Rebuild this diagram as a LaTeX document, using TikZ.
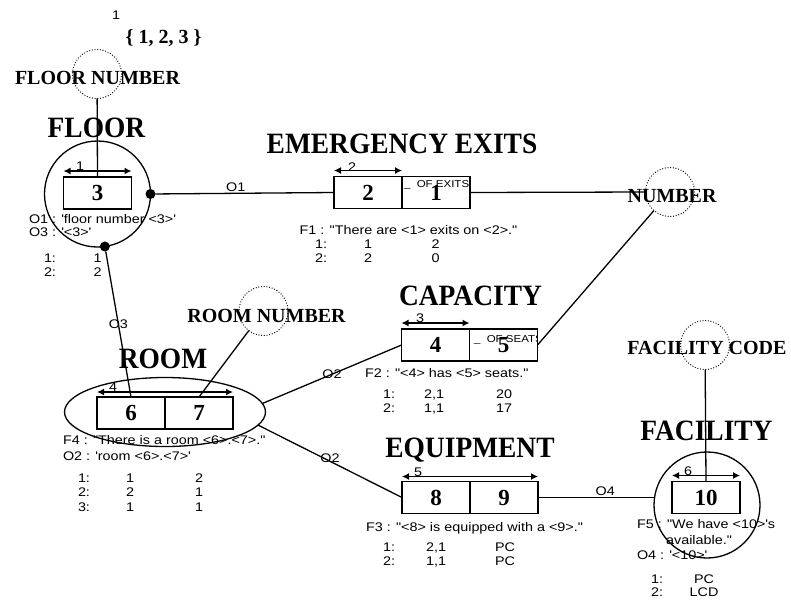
\documentclass[tikz,border=0pt]{standalone}
\usepackage{fontspec}
\setmainfont{Liberation Serif}
\setsansfont{Liberation Sans}
\newfontfamily\lblfont{Liberation Sans}[FakeStretch=1.15]
\newfontfamily\ttlfont{Liberation Serif}[FakeStretch=0.93]
\usetikzlibrary{arrows.meta,shapes.geometric}
\newcommand\sqt{\textquotesingle}
\begin{document}
\begin{tikzpicture}[x=1pt,y=-1pt,
  every node/.style={inner sep=0pt,outer sep=0pt},
  lbl/.style={font=\lblfont\fontsize{12.5}{14}\selectfont, text height=9pt, text depth=0pt},
  ttl/.style={font=\ttlfont\bfseries\fontsize{29.5}{32}\selectfont, anchor=base},
  attr/.style={font=\bfseries\fontsize{20}{22}\selectfont, anchor=base},
  cell/.style={draw, line width=1.3pt, minimum width=68pt, minimum height=32pt, font=\bfseries\fontsize{23}{25}\selectfont},
  dotc/.style={circle, draw, line width=1.3pt, dash pattern=on 0pt off 2.7pt, line cap=round, minimum size=49pt},
  bigc/.style={circle, draw, line width=1.3pt, minimum size=106pt},
  blob/.style={circle, fill, minimum size=10pt},
  dimarr/.style={line width=1.3pt, arrows={Latex[length=7pt,width=7pt]-Latex[length=7pt,width=7pt]}},
  conn/.style={line width=1.3pt},
  tinyl/.style={font=\lblfont\fontsize{10}{11}\selectfont, anchor=base west}
]
\useasboundingbox (0,0) rectangle (791,600);

% ---------- top domain ----------
\node[lbl] (topone) at (116,15) {1};
\node[font=\bfseries\fontsize{20}{22}\selectfont, anchor=base] (domain) at (163.5,43) {\{ 1, 2, 3 \}};

% ---------- FLOOR ----------
\node[dotc] (fnc) at (97,74) {};
\node[attr] (fnt) at (97.5,84) {FLOOR NUMBER};
\node[ttl] (floort) at (96.5,137) {FLOOR};
\node[bigc] (floorc) at (97.5,194) {};
\node[cell] (b3) at (97.5,193) {3};
\draw[dimarr] ([yshift=6pt]b3.north west) -- ([yshift=6pt]b3.north east);
\node[lbl] (n1) at (80,166) {1};
\draw[conn] (fnc) -- (b3.north);
\node[blob] (d1) at (floorc.east) {};
\node[blob] (d3) at (floorc.-82) {};
\node[lbl, anchor=west] (o1floor) at (29,219) {O1 : \sqt floor number <3>\sqt};
\node[lbl, anchor=west] (o3floor) at (29,232) {O3 : \sqt<3>\sqt};
\node[lbl] (fr1a) at (50,258) {1:};
\node[lbl] (fr1b) at (97.5,258) {1};
\node[lbl] (fr2a) at (50,272) {2:};
\node[lbl] (fr2b) at (97.5,272) {2};

% ---------- EMERGENCY EXITS ----------
\node[ttl] (emt) at (402,153) {EMERGENCY EXITS};
\node[cell] (b2) at (368,192.5) {2};
\node[cell, anchor=west] (b1) at (b2.east) {1};
\draw[dimarr] ([yshift=6pt]b2.north west) -- ([yshift=6pt]b2.north east);
\node[lbl] (n2) at (352,167) {2};
\begin{scope}
  \clip (b1.south west) rectangle (b1.north east);
  \node[tinyl] (ofexits) at (404,187) {\_\ \ OF EXITS};
\end{scope}
\draw[conn] (d1) -- (b2.west) node[lbl, pos=0.45, anchor=south, yshift=2pt] (o1lab) {O1};
\node[lbl] (f1) at (408.5,230) {F1 : "There are <1> exits on <2>."};
\node[lbl] (er1a) at (321,244) {1:};
\node[lbl] (er1b) at (368,244) {1};
\node[lbl] (er1c) at (435.5,244) {2};
\node[lbl] (er2a) at (321,258) {2:};
\node[lbl] (er2b) at (368,258) {2};
\node[lbl] (er2c) at (435.5,258) {0};

% ---------- NUMBER ----------
\node[dotc] (numc) at (670,192) {};
\node[attr] (numt) at (672,202) {NUMBER};
\draw[conn] (b1.east) -- (numc.west);

% ---------- CAPACITY ----------
\node[ttl] (capt) at (470.5,305) {CAPACITY};
\node[cell] (b4) at (435.5,345) {4};
\node[cell, anchor=west] (b5) at (b4.east) {5};
\draw[dimarr] ([yshift=6pt]b4.north west) -- ([yshift=6pt]b4.north east);
\node[lbl] (n3) at (420,318) {3};
\begin{scope}
  \clip (b5.south west) rectangle (b5.north east);
  \node[tinyl] (ofseats) at (474,342) {\_\ \ OF SEATS};
\end{scope}
\draw[conn] (numc) -- (b5.east);
\node[lbl, anchor=west] (f2) at (365,373) {F2 : "<4> has <5> seats."};
\node[lbl] (cr1a) at (389,394) {1:};
\node[lbl] (cr1b) at (434,394) {2,1};
\node[lbl] (cr1c) at (504,394) {20};
\node[lbl] (cr2a) at (389,408) {2:};
\node[lbl] (cr2b) at (434,408) {1,1};
\node[lbl] (cr2c) at (504,408) {17};

% ---------- ROOM NUMBER ----------
\node[dotc] (rnc) at (263.5,311) {};
\node[attr] (rnt) at (266.5,322) {ROOM NUMBER};

% ---------- ROOM ----------
\node[ttl] (roomt) at (163,368) {ROOM};
\node[ellipse, draw, line width=1.3pt, minimum width=201pt, minimum height=69pt] (roome) at (165,412) {};
\node[cell] (b6) at (131,413) {6};
\node[cell, anchor=west] (b7) at (b6.east) {7};
\draw[dimarr] ([yshift=5pt]b6.north west) -- ([yshift=5pt]b7.north east);
\node[lbl] (n4) at (113,387) {4};
\draw[conn] (rnc) -- (b7.north);
\draw[conn] (d3) -- (b6.north) node[lbl, pos=0.5] (o3lab) {O3};
\node[lbl, anchor=west] (f4) at (63,440) {F4 : "There is a room <6>.<7>."};
\node[lbl, anchor=west] (o2room) at (63,456) {O2 : \sqt room <6>.<7>\sqt};
\node[lbl] (rr1a) at (84,477.5) {1:};
\node[lbl] (rr1b) at (130,477.5) {1};
\node[lbl] (rr1c) at (199,477.5) {2};
\node[lbl] (rr2a) at (84,492) {2:};
\node[lbl] (rr2b) at (130,492) {2};
\node[lbl] (rr2c) at (199,492) {1};
\node[lbl] (rr3a) at (84,506.5) {3:};
\node[lbl] (rr3b) at (130,506.5) {1};
\node[lbl] (rr3c) at (199,506.5) {1};

% ---------- EQUIPMENT ----------
\node[ttl] (eqt) at (470,457) {EQUIPMENT};
\node[cell] (b8) at (436,497.5) {8};
\node[cell, anchor=west] (b9) at (b8.east) {9};
\draw[dimarr] ([yshift=5pt]b8.north west) -- ([yshift=5pt]b9.north east);
\node[lbl] (n5) at (418,472) {5};
\node[lbl, anchor=west] (f3) at (366,527) {F3 : "<8> is equipped with a <9>."};
\node[lbl] (qr1a) at (389,547) {1:};
\node[lbl] (qr1b) at (436,547) {2,1};
\node[lbl] (qr1c) at (505,547) {PC};
\node[lbl] (qr2a) at (389,561) {2:};
\node[lbl] (qr2b) at (436,561) {1,1};
\node[lbl] (qr2c) at (505,561) {PC};

% ---------- O2 connectors ----------
\draw[conn] (roome.5) -- (b4.west) node[lbl, pos=0.5] (o2a) {O2};
\draw[conn] (roome.-8) -- (b8.west) node[lbl, pos=0.5, yshift=3pt] (o2b) {O2};

% ---------- FACILITY ----------
\node[dotc] (fcc) at (705,345) {};
\node[attr] (fct) at (707,354) {FACILITY CODE};
\node[ttl] (fact) at (706.5,440) {FACILITY};
\node[bigc] (facc) at (707,505) {};
\node[cell] (b10) at (706,497.5) {10};
\draw[dimarr] ([yshift=6pt]b10.north west) -- ([yshift=6pt]b10.north east);
\node[lbl] (n6) at (688,471) {6};
\draw[conn] (fcc) -- (b10.north);
\draw[conn] (b9.east) -- (b9.east -| facc.west) node[lbl, pos=0.58, anchor=south, yshift=2pt] (o4lab) {O4};
\node[lbl, anchor=west] (f5a) at (637,524) {F5 : "We have <10>\sqt s};
\node[lbl] (f5b) at (699,540) {available."};
\node[lbl, anchor=west] (o4fac) at (637,555) {O4 : \sqt<10>\sqt};
\node[lbl] (ar1a) at (657,579) {1:};
\node[lbl] (ar1b) at (704,579) {PC};
\node[lbl] (ar2a) at (657,592) {2:};
\node[lbl] (ar2b) at (704,592) {LCD};
\end{tikzpicture}
\end{document}
